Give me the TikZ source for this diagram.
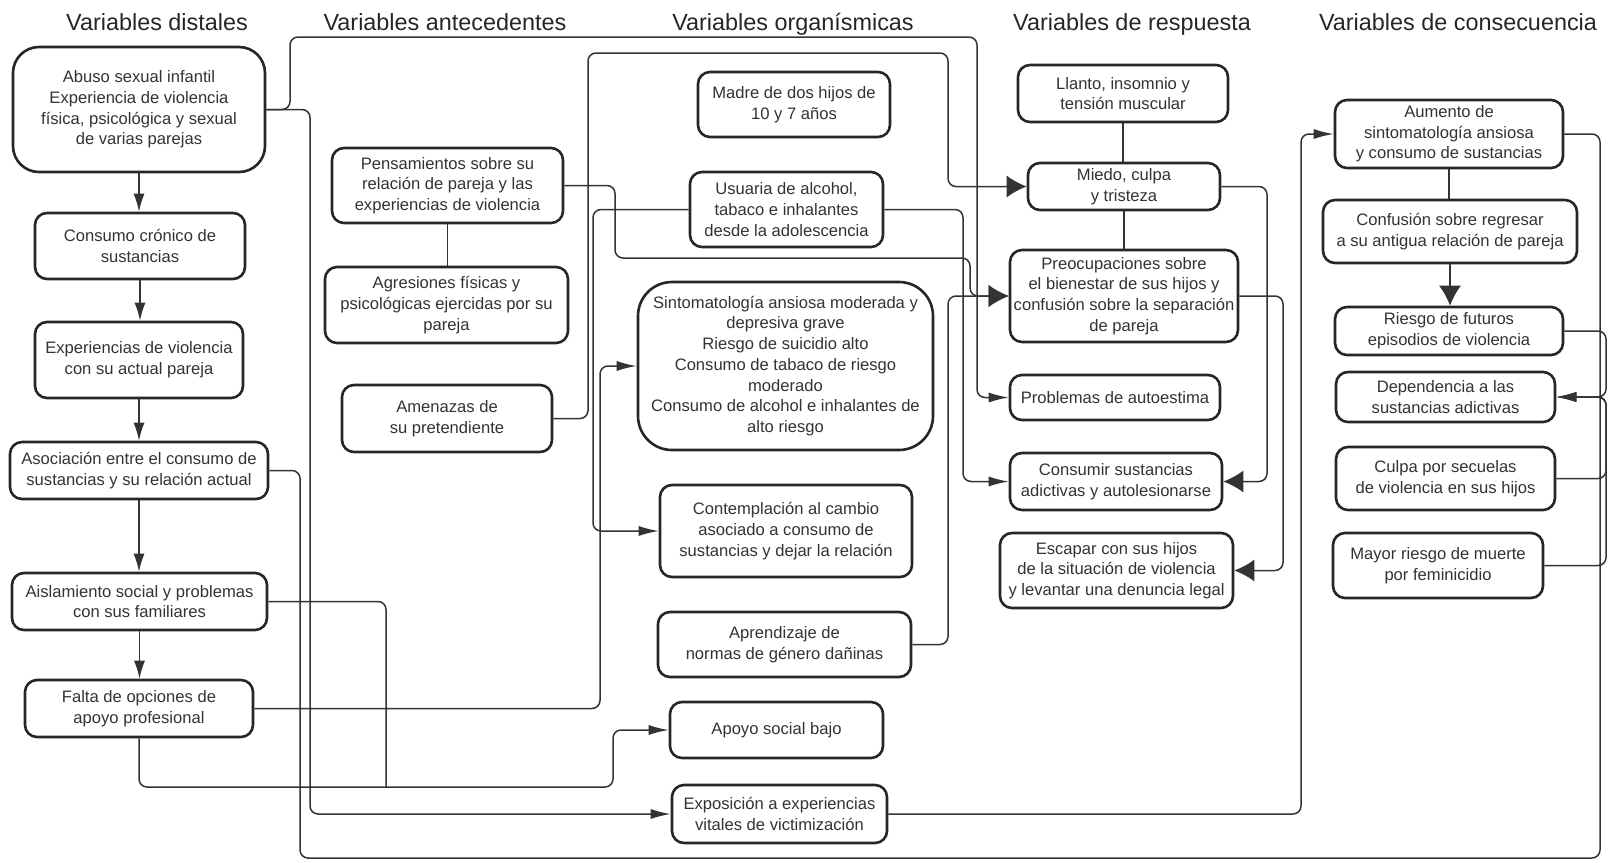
\documentclass[tikz,border=0pt]{standalone}
\usepackage{fontspec}
\setmainfont{Liberation Sans}
\usetikzlibrary{arrows.meta}
\tikzset{
 box/.style={draw=black!85, line width=1.3pt, rounded corners=6pt, fill=white, align=center, inner sep=1pt, text=black!80, font=\fontsize{8.3}{10.35}\selectfont},
 conn/.style={draw=black!80, line width=0.75pt, rounded corners=4pt},
 sarr/.style={conn, -{Latex[length=10pt,width=5pt]}},
 barr/.style={conn, -{Latex[length=10pt,width=11pt]}},
 varr/.style={conn, -{Latex[length=9pt,width=5.5pt]}},
 coltitle/.style={anchor=base, text=black!85, font=\fontsize{11.7}{14}\selectfont},
}
\newcommand\bx[7][]{\node[box,minimum width={(#5-#3)*0.5pt},minimum height={(#6-#4)*0.5pt},#1] (#2) at ({(#3+#5)/2},{(#4+#6)/2}) {#7};}
\begin{document}
\begin{tikzpicture}[x=0.5pt,y=-0.5pt]
\useasboundingbox (0,0) rectangle (1610,862);
% titles
\node[coltitle] (t1) at (157,30) {Variables distales};
\node[coltitle] (t2) at (445,30) {Variables antecedentes};
\node[coltitle] (t3) at (793,30) {Variables organísmicas};
\node[coltitle] (t4) at (1132,30) {Variables de respuesta};
\node[coltitle] (t5) at (1458,30) {Variables de consecuencia};
% column 1
\bx[rounded corners=13pt]{A1}{13}{47}{265}{172}{Abuso sexual infantil\\Experiencia de violencia\\física, psicológica y sexual\\de varias parejas}
\bx{A2}{35}{213}{245}{279}{Consumo crónico de\\sustancias}
\bx{A3}{35}{322}{243}{398}{Experiencias de violencia\\con su actual pareja}
\bx{A4}{10}{442}{268}{499}{Asociación entre el consumo de\\sustancias y su relación actual}
\bx{A5}{12}{573}{267}{630}{Aislamiento social y problemas\\con sus familiares}
\bx{A6}{25}{680}{253}{737}{Falta de opciones de\\apoyo profesional}
% column 2
\bx{B1}{332}{148}{563}{223}{Pensamientos sobre su\\relación de pareja y las\\experiencias de violencia}
\bx{B2}{325}{267}{568}{343}{Agresiones físicas y\\psicológicas ejercidas por su\\pareja}
\bx{B3}{342}{385}{552}{452}{Amenazas de\\su pretendiente}
% column 3
\bx{C1}{698}{72}{890}{137}{Madre de dos hijos de\\10 y 7 años}
\bx{C2}{690}{172}{883}{247}{Usuaria de alcohol,\\tabaco e inhalantes\\desde la adolescencia}
\bx[rounded corners=17pt]{C3}{638}{282}{933}{450}{Sintomatología ansiosa moderada y\\depresiva grave\\Riesgo de suicidio alto\\Consumo de tabaco de riesgo\\moderado\\Consumo de alcohol e inhalantes de\\alto riesgo}
\bx{C4}{660}{485}{912}{577}{Contemplación al cambio\\asociado a consumo de\\sustancias y dejar la relación}
\bx{C5}{658}{612}{911}{677}{Aprendizaje de\\normas de género dañinas}
\bx{C6}{670}{702}{883}{758}{Apoyo social bajo}
\bx{C7}{672}{785}{887}{843}{Exposición a experiencias\\vitales de victimización}
% column 4
\bx{D1}{1018}{65}{1228}{122}{Llanto, insomnio y\\tensión muscular}
\bx{D2}{1028}{163}{1220}{210}{Miedo, culpa\\y tristeza}
\bx{D3}{1010}{250}{1238}{342}{Preocupaciones sobre\\el bienestar de sus hijos y\\confusión sobre la separación\\de pareja}
\bx{D4}{1010}{375}{1220}{420}{Problemas de autoestima}
\bx{D5}{1010}{453}{1222}{510}{Consumir sustancias\\adictivas y autolesionarse}
\bx{D6}{1000}{533}{1233}{608}{Escapar con sus hijos\\de la situación de violencia\\y levantar una denuncia legal}
% column 5
\bx{E1}{1335}{100}{1563}{168}{Aumento de\\sintomatología ansiosa\\y consumo de sustancias}
\bx{E2}{1323}{200}{1577}{263}{Confusión sobre regresar\\a su antigua relación de pareja}
\bx{E3}{1335}{307}{1563}{355}{Riesgo de futuros\\episodios de violencia}
\bx{E4}{1336}{372}{1555}{422}{Dependencia a las\\sustancias adictivas}
\bx{E5}{1336}{447}{1555}{510}{Culpa por secuelas\\de violencia en sus hijos}
\bx{E6}{1333}{533}{1543}{598}{Mayor riesgo de muerte\\por feminicidio}
% column 1 chain
\draw[varr] (A1.south) -- (A1.south |- A2.north);
\draw[varr] (A2.south) -- (A2.south |- A3.north);
\draw[varr] (A3.south) -- (A3.south |- A4.north);
\draw[varr] (A4.south) -- (A4.south |- A5.north);
\draw[varr] (A5.south) -- (A5.south |- A6.north);
% plain links
\draw[conn] (B1.south) -- (B1.south |- B2.north);
\draw[conn] (D1.south) -- (D1.south |- D2.north);
\draw[conn] (D2.south) -- (D2.south |- D3.north);
\draw[conn] (E1.south) -- (E1.south |- E2.north);
\draw[barr] (E2.south) -- (E2.south |- E3.north);
% long connectors
\draw[sarr] (A1.east) -| (290,37) -| (977,0 |- D4.west) -- (D4.west);
\draw[sarr] (A1.east) -| (310,0 |- C7.west) -- (C7.west);
\draw[conn] (A4.east) -| (300,858) -| (1600,0 |- E1.east) -- (E1.east);
\coordinate (m5) at (386,787);
\draw[conn] (A5.east) -| (m5);
\draw[sarr] (A6.south) |- (613,787) |- (C6.west);
\draw[sarr] (A6.east) -| (600,0 |- C3.west) -- (C3.west);
\draw[barr] (B1.east) -| (615,258) -| (970,0 |- D3.west) -- (D3.west);
\draw[barr] (B3.east) -| (588,53) -| (948,0 |- D2.west) -- (D2.west);
\draw[sarr] (C2.west) -| (593,0 |- C4.west) -- (C4.west);
\draw[sarr] (C2.east) -| (963,0 |- D5.west) -- (D5.west);
\draw[barr] (C5.east) -| (948,0 |- D3.west) -- (D3.west);
\draw[sarr] (C7.east) -| (1301,0 |- E1.west) -- (E1.west);
\draw[barr] (D2.east) -| (1267,0 |- D5.east) -- (D5.east);
\draw[barr] (D3.east) -| (1283,0 |- D6.east) -- (D6.east);
\draw[sarr] (E3.east) -| (1606,0 |- E4.east) -- (E4.east);
\draw[sarr] (E5.east) -| (1606,0 |- E4.east) -- (E4.east);
\draw[sarr] (E6.east) -| (1606,0 |- E4.east) -- (E4.east);
\end{tikzpicture}
\end{document}
